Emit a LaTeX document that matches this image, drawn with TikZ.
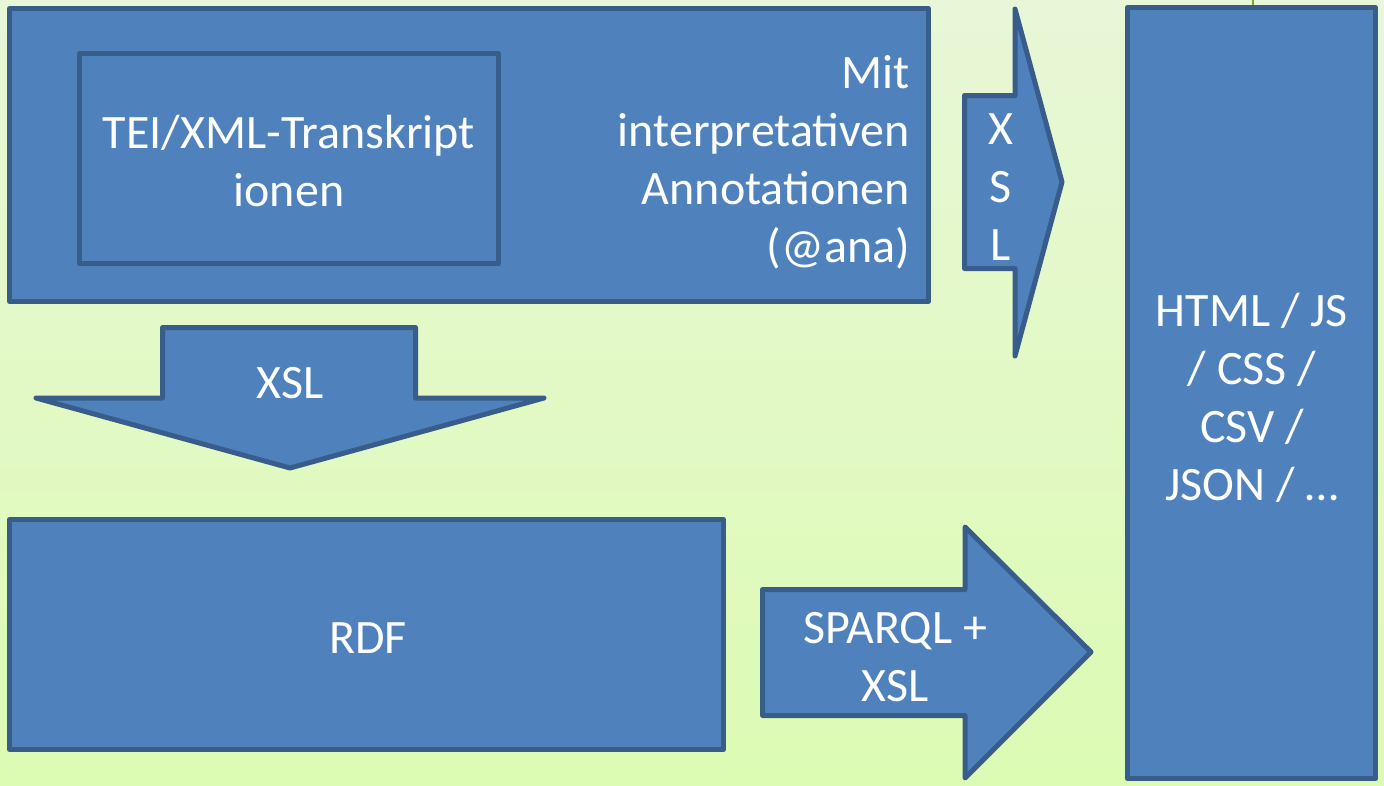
\documentclass[tikz,border=0pt]{standalone}
\usepackage{fontspec}
\setmainfont{Carlito}
\definecolor{boxfill}{HTML}{4F81BD}
\definecolor{boxline}{HTML}{385D8A}
\definecolor{bgtop}{HTML}{E8F7D7}
\definecolor{bgbot}{HTML}{DCFBB3}
\definecolor{tick}{HTML}{7F9F3F}
\begin{document}
\begin{tikzpicture}[x=1pt,y=-1pt,
  blk/.style={draw=boxline, fill=boxfill, line width=5pt, line join=round},
  boxn/.style={blk, rectangle, inner sep=0pt},
  lbl/.style={text=white, font=\fontsize{48}{58}\selectfont, inner sep=0pt, align=center}]
\useasboundingbox (0,0) rectangle (1384,785);
\shade[top color=bgtop, bottom color=bgbot] (0,0) rectangle (1384,785);
\draw[tick, line width=1.5pt] (1253,0) -- (1253,6);
% boxes
\node[boxn, minimum width=919pt, minimum height=293pt] (top) at (469,155) {};
\node[boxn, minimum width=419pt, minimum height=210pt] (inner) at (289,158.5) {};
\node[boxn, minimum width=248pt, minimum height=771pt] (out) at (1251.5,393) {};
\node[boxn, minimum width=714pt, minimum height=230pt] (rdf) at (366.5,634.5) {};
% block arrows
\draw[blk] (964.5,95.5) -- (1015,95.5) -- (1015,9) -- (1062,182) -- (1015,356) -- (1015,268.5) -- (964.5,268.5) -- cycle;
\draw[blk] (162.5,327.5) -- (415.5,327.5) -- (415.5,398) -- (544,398) -- (290,468) -- (36,398) -- (162.5,398) -- cycle;
\draw[blk] (762.5,589.5) -- (965,589.5) -- (965,527) -- (1091,652) -- (965,778) -- (965,715.5) -- (762.5,715.5) -- cycle;
% labels
\node[lbl] (tei) at (289,165.4) {\strut TEI/XML-Transkript\\ \strut ionen};
\node[lbl, align=right, anchor=east] (mit) at (910,163.4) {\strut Mit\\ interpretativen\\ Annotationen\\ \strut(@ana)};
\node[lbl] (xslr) at (1001,190.4) {\strut X\\ S\\ \strut L};
\node[lbl] (xsld) at (290,387) {\strut XSL};
\node[lbl] (rdft) at (368,642) {\strut RDF};
\node[lbl] (sparql) at (895,660.4) {\strut SPARQL +\\ \strut XSL};
\node[lbl] (html) at (1252,401.4) {\strut HTML / JS\\ / CSS /\\ CSV /\\ \strut JSON / …};
\end{tikzpicture}
\end{document}
